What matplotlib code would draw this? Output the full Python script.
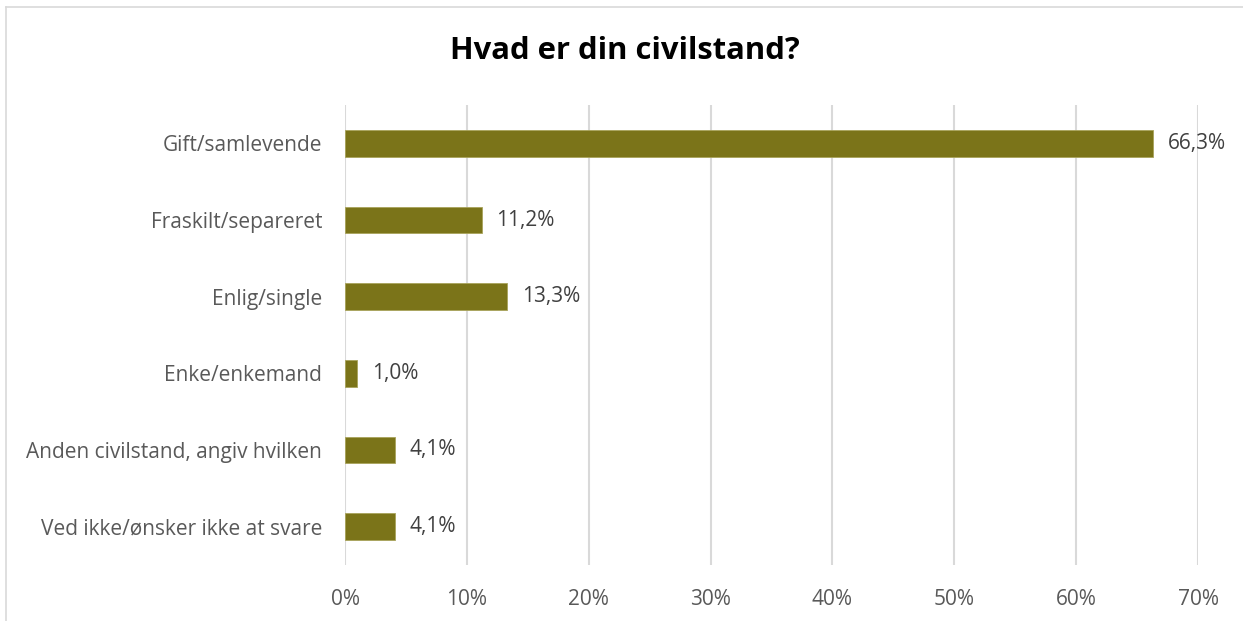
import matplotlib
matplotlib.use("Agg")
import matplotlib.pyplot as plt
from matplotlib.lines import Line2D

categories = ["Gift/samlevende", "Fraskilt/separeret", "Enlig/single", "Enke/enkemand",
              "Anden civilstand, angiv hvilken", "Ved ikke/ønsker ikke at svare"]
values = [66.3, 11.2, 13.3, 1.0, 4.1, 4.1]
value_labels = ["66,3%", "11,2%", "13,3%", "1,0%", "4,1%", "4,1%"]
xticks = [0, 10, 20, 30, 40, 50, 60, 70]
xtick_labels = ["0%", "10%", "20%", "30%", "40%", "50%", "60%", "70%"]
title = "Hvad er din civilstand?"

plt.rcParams['font.family'] = ['Open Sans', 'DejaVu Sans']
text_color = "#595959"
bar_color = "#7B7419"
grid_color = "#D9D9D9"

fig = plt.figure(figsize=(12.43, 6.21), dpi=100)
ax = fig.add_axes([0.2776, 0.0902, 0.9638 - 0.2776, 0.8309 - 0.0902])

y = list(range(len(categories)))
ax.barh(y, values, height=0.35, color=bar_color, edgecolor="#A8A35A", linewidth=0.6, zorder=3)
for yi, v, lab in zip(y, values, value_labels):
    ax.text(v + 1.2, yi, lab, va="center", ha="left", fontsize=15, color="#404040", zorder=4)

ax.set_xlim(0, 70)
ax.set_ylim(len(categories) - 0.5, -0.5)
ax.set_yticks(y)
ax.set_yticklabels(categories, fontsize=15, color=text_color)
ax.set_xticks(xticks)
ax.set_xticklabels(xtick_labels, fontsize=15, color=text_color)
ax.tick_params(axis="both", length=0)
ax.tick_params(axis="y", pad=16.5)
ax.tick_params(axis="x", pad=17)
ax.grid(axis="x", color=grid_color, linewidth=1.5, zorder=0)
ax.set_axisbelow(True)
for s in ax.spines.values():
    s.set_visible(False)

fig.text(0.5025, 0.918, title, ha="center", va="center", fontsize=22.3, fontweight="bold", color="black")

# outer border
fig.add_artist(Line2D([6 / 1243, 6 / 1243], [0, 1 - 7 / 621], color=grid_color, linewidth=1.2, transform=fig.transFigure))
fig.add_artist(Line2D([6 / 1243, 1], [1 - 7 / 621, 1 - 7 / 621], color=grid_color, linewidth=1.2, transform=fig.transFigure))

fig.savefig("out.png", dpi=100)
